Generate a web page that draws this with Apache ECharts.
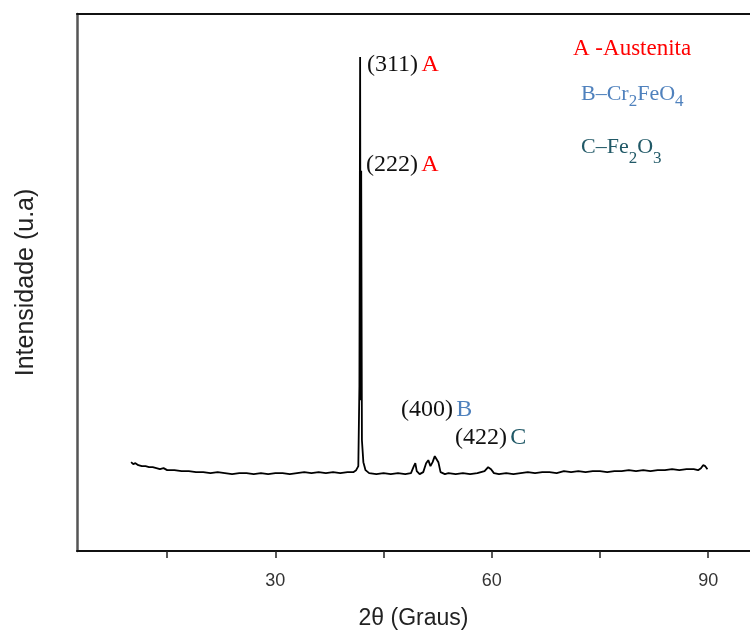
<!DOCTYPE html>
<html>
<head>
<meta charset="utf-8">
<script src="https://cdn.jsdelivr.net/npm/echarts@6/dist/echarts.min.js"></script>
<style>
  html, body { margin: 0; padding: 0; background: #fff; }
  #chart { width: 750px; height: 631px; }
</style>
</head>
<body>
<div id="chart"></div>
<script>
// 2theta (degrees) and intensity (a.u.)
var twoTheta = [
  10.0, 10.3, 10.6, 11.0, 11.5, 12.0, 12.5, 13.0, 13.5, 14.0, 14.5, 15.0, 16.0, 17.0, 18.0, 19.0, 20.0,
  21.0, 22.0, 23.0, 24.0, 25.0, 26.0, 27.0, 28.0, 29.0, 30.0, 31.0, 32.0, 33.0, 34.0, 35.0, 36.0,
  37.0, 38.0, 39.0, 40.0, 40.8, 41.2, 41.5, 41.65, 41.75, 41.82, 41.9, 42.0, 42.2, 42.5, 43.0,
  44.0, 45.0, 46.0, 47.0, 48.0, 48.8, 49.2, 49.4, 49.6, 50.0, 50.5, 50.9, 51.2, 51.5, 51.8, 52.1,
  52.3, 52.6, 52.9, 53.5, 54.0, 55.0, 56.0, 57.0, 58.0, 59.0, 59.5, 59.9, 60.3, 61.0, 62.0, 63.0,
  64.0, 65.0, 66.0, 67.0, 68.0, 69.0, 70.0, 71.0, 72.0, 73.0, 74.0, 75.0, 76.0, 77.0, 78.0, 79.0,
  80.0, 81.0, 82.0, 83.0, 84.0, 85.0, 86.0, 87.0, 88.0, 88.6, 89.0, 89.3, 89.6, 89.9
];
var intensity = [
  890, 870, 880, 860, 850, 850, 840, 840, 830, 820, 830, 810, 810, 800, 800, 790, 790,
  780, 790, 780, 770, 780, 780, 770, 780, 770, 780, 780, 770, 780, 790, 780, 790,
  780, 790, 780, 790, 790, 810, 850, 1650, 4950, 1510, 3810, 1110, 890, 810, 780,
  770, 780, 770, 780, 770, 780, 850, 880, 800, 770, 790, 880, 910, 850, 890, 950,
  970, 890, 790, 770, 780, 770, 780, 770, 780, 800, 840, 820, 780, 770, 780, 770,
  780, 790, 780, 790, 790, 780, 800, 790, 800, 790, 800, 800, 790, 800, 800, 810,
  800, 810, 800, 810, 810, 820, 810, 820, 820, 810, 830, 860, 850, 820
];
var tickValues = [15, 30, 45, 60, 75, 90];
var labelValues = [30, 60, 90];

var dom = document.getElementById('chart');
var myChart = echarts.init(dom);

var pts = [];
for (var i = 0; i < twoTheta.length; i++) {
  pts.push([twoTheta[i], intensity[i]]);
}

var serif = '"Liberation Serif", "Times New Roman", serif';
var sans = '"Liberation Sans", Arial, sans-serif';
var red = '#ff0000', blue = '#4f81bd', teal = '#215967';

function peakText(x, y, hkl, letter, color) {
  return {
    type: 'text', left: x, top: y,
    style: {
      rich: {
        k: { fontFamily: serif, fontSize: 24, fill: '#111' },
        l: { fontFamily: serif, fontSize: 24, fill: color }
      },
      text: '{k|' + hkl + '} {l|' + letter + '}'
    }
  };
}

var option = {
  animation: false,
  grid: { left: 77, right: 0, top: 14, bottom: 80, outerBoundsMode: 'none', containLabel: false },
  xAxis: [{
    type: 'value', min: 2.5, max: 95.8,
    name: '2\u03b8 (Graus)', nameLocation: 'middle', nameGap: 56,
    nameTextStyle: { fontFamily: sans, fontSize: 23, color: '#222' },
    axisLine: { show: true, lineStyle: { color: '#111', width: 2 } },
    axisTick: { show: true, inside: false, length: 7, customValues: tickValues, lineStyle: { color: '#222', width: 1.5 } },
    axisLabel: { customValues: labelValues, margin: 21, fontFamily: sans, fontSize: 18, color: '#333' },
    splitLine: { show: false }
  }, {
    type: 'value', position: 'top', min: 2.5, max: 95.8,
    axisLine: { show: true, onZero: false, lineStyle: { color: '#111', width: 2 } },
    axisTick: { show: false }, axisLabel: { show: false }, splitLine: { show: false }
  }],
  yAxis: {
    type: 'value', min: 0, max: 5380,
    name: 'Intensidade (u.a)', nameLocation: 'middle', nameGap: 38,
    nameTextStyle: { fontFamily: sans, fontSize: 25, color: '#222' },
    axisLine: { show: true, lineStyle: { color: '#555', width: 2.5 } },
    axisTick: { show: false }, axisLabel: { show: false }, splitLine: { show: false }
  },
  series: [{
    name: 'XRD', type: 'line', data: pts, symbol: 'none', smooth: false,
    lineStyle: { color: '#000', width: 1.8 }
  }],
  graphic: [
    peakText(367, 53, '(311)', 'A', red),
    peakText(366, 153, '(222)', 'A', red),
    peakText(401, 398, '(400)', 'B', blue),
    peakText(455, 426, '(422)', 'C', teal),
    {
      type: 'text', left: 573, top: 37,
      style: { text: 'A -Austenita', fontFamily: serif, fontSize: 23, fill: red }
    },
    {
      type: 'text', left: 581, top: 83,
      style: {
        rich: {
          m: { fontFamily: serif, fontSize: 22, fill: blue, lineHeight: 27, verticalAlign: 'top' },
          s: { fontFamily: serif, fontSize: 17, fill: blue, lineHeight: 27, verticalAlign: 'bottom' }
        },
        text: '{m|B\u2013Cr}{s|2}{m|FeO}{s|4}'
      }
    },
    {
      type: 'text', left: 581, top: 136,
      style: {
        rich: {
          m: { fontFamily: serif, fontSize: 22, fill: teal, lineHeight: 23, verticalAlign: 'top' },
          s: { fontFamily: serif, fontSize: 17, fill: teal, lineHeight: 31, verticalAlign: 'bottom' }
        },
        text: '{m|C\u2013Fe}{s|2}{m|O}{s|3}'
      }
    }
  ]
};

myChart.setOption(option, true);
</script>
</body>
</html>
